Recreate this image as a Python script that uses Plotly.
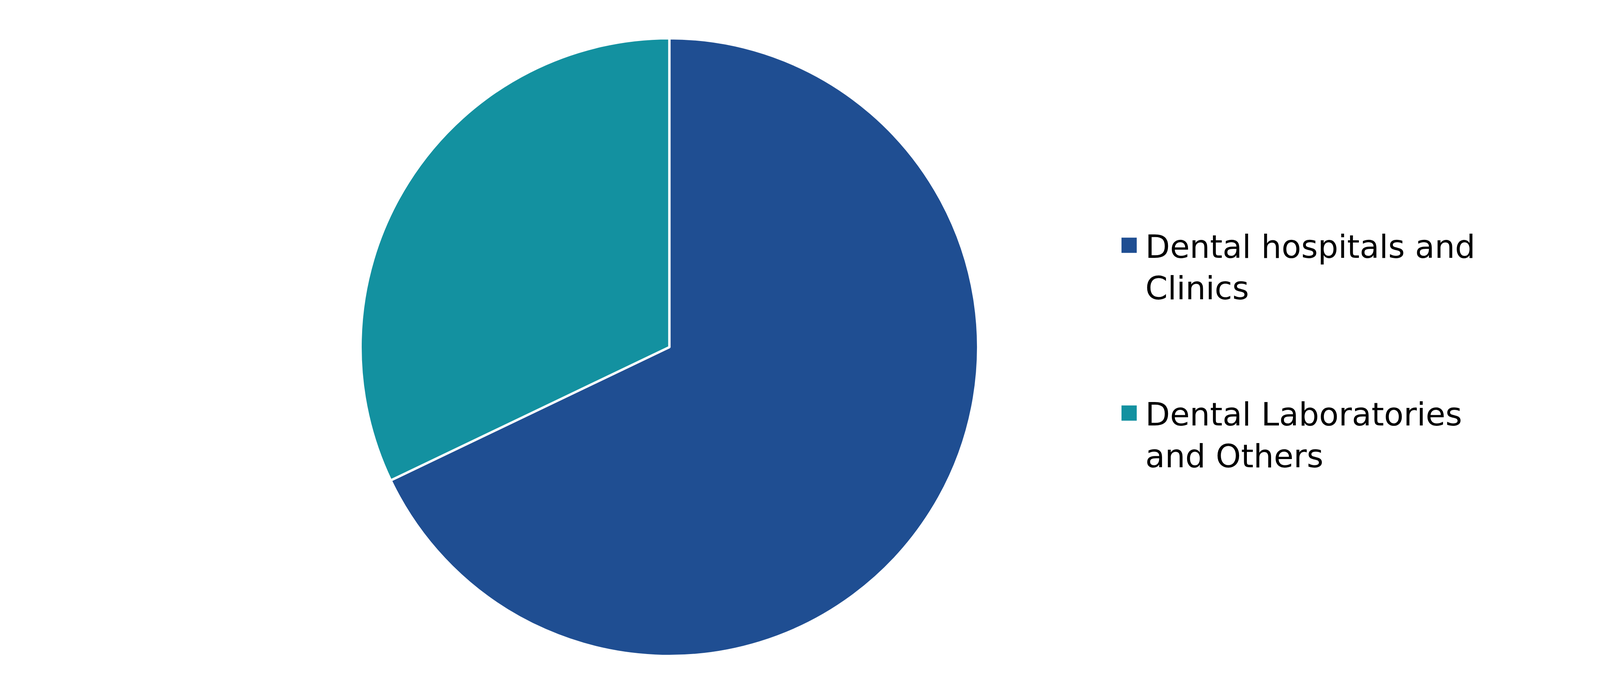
import plotly.graph_objects as go

# market share by end user (%)
segments = ["Dental hospitals and<br>Clinics", "Dental Laboratories<br>and Others"]
shares = [67.9, 32.1]
colors = ["#1F4E92", "#1391A0"]

W, H = 4501, 1784

# extra blank lines after the first entry to open up the legend spacing
legend_labels = [segments[0] + "<br>\u00a0<br>\u00a0", segments[1]]

fig = go.Figure(
    go.Pie(
        labels=legend_labels,
        values=shares,
        marker=dict(colors=colors, line=dict(color="white", width=6)),
        sort=False,
        direction="clockwise",
        rotation=0,
        textinfo="none",
        hoverinfo="label+percent",
        domain=dict(x=[915 / W, 2496 / W], y=[113 / H, 1694 / H]),
    )
)

fig.update_layout(
    width=W,
    height=H,
    margin=dict(l=0, r=0, t=0, b=0),
    paper_bgcolor="white",
    font=dict(family="DejaVu Sans", size=82, color="black"),
    legend=dict(
        x=0.6312,
        y=0.6861,
        xanchor="left",
        yanchor="top",
        valign="top",
        itemwidth=73,
        bgcolor="rgba(0,0,0,0)",
        font=dict(family="DejaVu Sans", size=82, color="black"),
    ),
)

# plotly draws pie legend swatches at a fixed 12px; enlarge them to match the original
post = """
var gd = document.getElementsByClassName('plotly-graph-div')[0];
function growSwatches() {
  document.querySelectorAll('path.legendpie').forEach(function (p) {
    p.setAttribute('d', 'M19.5,19.5H-19.5V-19.5H19.5Z');
    p.style.strokeWidth = '0';
  });
}
growSwatches();
gd.on('plotly_afterplot', growSwatches);
"""

fig.write_html("out.html", post_script=post)
